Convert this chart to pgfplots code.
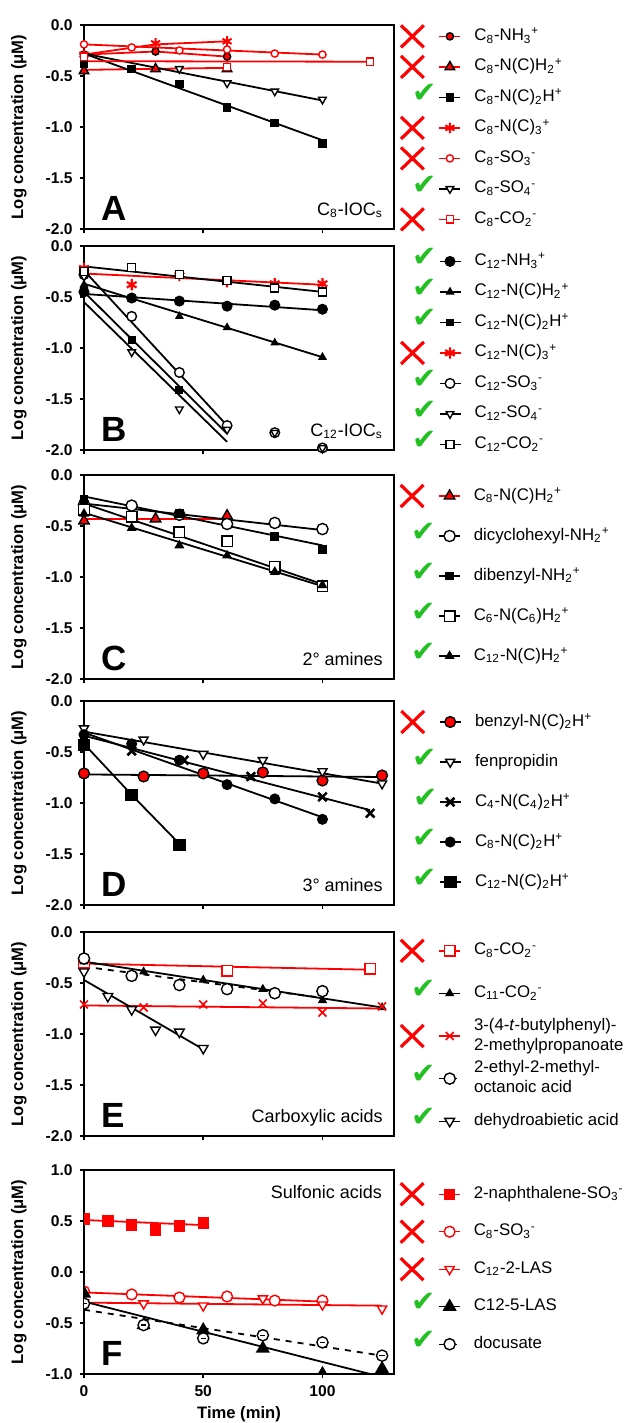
\documentclass[border=0pt]{standalone}
\usepackage{fontspec}
\setmainfont{Liberation Sans}
\newfontfamily\djv{DejaVu Sans}
\usepackage{pgfplots}
\pgfplotsset{compat=1.18}
\definecolor{ckgreen}{HTML}{22C022}
\definecolor{rd}{HTML}{FF0000}
\newcommand{\sub}[1]{\textsubscript{#1}}
\newcommand{\sps}[1]{\textsuperscript{#1}}

\tikzset{
  letter/.style={anchor=south west, inner sep=0pt, font=\fontsize{17.5}{18}\selectfont\bfseries},
  note/.style={anchor=base east, inner sep=0pt, font=\fontsize{9}{10}\selectfont},
}
\pgfplotsset{
  panel/.style={
    width=155pt, height=102pt, scale only axis, anchor=north west,
    xmin=0, xmax=130, ymin=-2, ymax=0,
    xtick={0,50,100}, xticklabels={},
    ytick={-2,-1.5,...,0},
    tick pos=left, tick align=outside, major tick length=2.2pt,
    axis line style={line width=1pt},
    tick style={black,line width=0.8pt},
    tick label style={font=\fontsize{7.8}{8}\selectfont\bfseries},
    /pgf/number format/assume math mode=true,
    yticklabel style={/pgf/number format/.cd,fixed,fixed zerofill,precision=1},
    ylabel={Log concentration (μM)},
    ylabel style={font=\fontsize{8.3}{9}\selectfont\bfseries,
      at={(axis description cs:-0.21,0.5)}, anchor=center},
    legend cell align=left,
    legend style={at={(axis description cs:1,1)}, anchor=north west, xshift=3pt,
      draw=none, fill=none, inner sep=0pt, column sep=4.5pt,
      nodes={font=\fontsize{8.4}{10}\selectfont, text height=6.5pt,
        text depth=2.5pt, inner xsep=2pt, inner ysep=0pt}},
  },
  fitl/.style={no marks, line width=0.9pt, forget plot},
  pts/.style={only marks, line width=0.7pt},
  lgok/.style={legend image code/.code={%
    \pgfinterruptboundingbox
      \node[inner sep=0pt,text=ckgreen,font=\djv\fontsize{14.5}{15}\selectfont] at (-14pt,-0.6pt) {✔};
    \endpgfinterruptboundingbox
    \path (-19pt,0pt) (10.5pt,0pt);
    \draw[##1] (0pt,0pt) -- (10.5pt,0pt);
    \draw[##1] plot coordinates {(5.25pt,0pt)};}},
  lgno/.style={legend image code/.code={%
    \pgfinterruptboundingbox
      \draw[rd,line width=1.6pt] (-19.2pt,-5.5pt) -- (-7.8pt,5.5pt) (-19.2pt,5.5pt) -- (-7.8pt,-5.5pt);
    \endpgfinterruptboundingbox
    \path (-19pt,0pt) (10.5pt,0pt);
    \draw[##1] (0pt,0pt) -- (10.5pt,0pt);
    \draw[##1] plot coordinates {(5.25pt,0pt)};}},
}

\begin{document}
\begin{tikzpicture}
% ---------------- A ----------------
\begin{axis}[panel, at={(0pt,0pt)}, legend style={yshift=-1pt, row sep=6.25pt}]
\addplot[fitl, rd] coordinates {(0,-0.29)(30,-0.26)(60,-0.31)};
\addplot[fitl, rd] coordinates {(0,-0.44)(60,-0.42)};
\addplot[fitl] coordinates {(0,-0.28)(100,-1.13)};
\addplot[fitl, rd] coordinates {(0,-0.29)(30,-0.19)(60,-0.16)};
\addplot[fitl, rd] coordinates {(0,-0.19)(100,-0.29)};
\addplot[fitl] coordinates {(0,-0.28)(100,-0.74)};
\addplot[fitl, rd] coordinates {(0,-0.355)(120,-0.36)};
\addplot[lgno, pts, rd, mark=*, mark size=1.8pt, mark options={fill=rd, draw=black}]
  coordinates {(0,-0.29)(30,-0.26)(60,-0.31)};
\addlegendentry{C\sub{8}-NH\sub{3}\sps{+}}
\addplot[lgno, pts, rd, mark=triangle*, mark size=2.7pt, mark options={fill=rd, draw=black}]
  coordinates {(0,-0.45)(30,-0.43)(60,-0.43)};
\addlegendentry{C\sub{8}-N(C)H\sub{2}\sps{+}}
\addplot[lgok, pts, black, mark=square*, mark size=1.8pt]
  coordinates {(0,-0.38)(20,-0.43)(40,-0.58)(60,-0.81)(80,-0.96)(100,-1.16)};
\addlegendentry{C\sub{8}-N(C)\sub{2}H\sps{+}}
\addplot[lgno, pts, rd, mark=asterisk, mark size=2.6pt, line width=1pt]
  coordinates {(0,-0.29)(30,-0.18)(60,-0.16)};
\addlegendentry{C\sub{8}-N(C)\sub{3}\sps{+}}
\addplot[lgno, pts, rd, mark=*, mark size=1.8pt, mark options={fill=white}]
  coordinates {(0,-0.19)(20,-0.22)(40,-0.25)(60,-0.24)(80,-0.28)(100,-0.29)};
\addlegendentry{C\sub{8}-SO\sub{3}\sps{-}}
\addplot[lgok, pts, black, mark=triangle*, mark size=2.2pt, mark options={fill=white, rotate=180}]
  coordinates {(0,-0.31)(40,-0.43)(60,-0.57)(80,-0.65)(100,-0.73)};
\addlegendentry{C\sub{8}-SO\sub{4}\sps{-}}
\addplot[lgno, pts, rd, mark=square*, mark size=1.8pt, mark options={fill=white}]
  coordinates {(0,-0.31)(60,-0.41)(120,-0.36)};
\addlegendentry{C\sub{8}-CO\sub{2}\sps{-}}
\node[letter] at (axis description cs:0.055,0.04) {A};
\node[note] at (axis description cs:0.965,0.065) {C\sub{8}-IOC\sub{s}};
\end{axis}
% ---------------- B ----------------
\begin{axis}[panel, at={(0pt,-110.5pt)}, legend style={yshift=-3pt, row sep=6.25pt}]
\addplot[fitl] coordinates {(0,-0.47)(100,-0.63)};
\addplot[fitl] coordinates {(0,-0.37)(100,-1.09)};
\addplot[fitl] coordinates {(0,-0.45)(60,-1.84)};
\addplot[fitl, rd] coordinates {(0,-0.27)(100,-0.38)};
\addplot[fitl] coordinates {(0,-0.24)(60,-1.76)};
\addplot[fitl] coordinates {(0,-0.55)(60,-1.92)};
\addplot[fitl] coordinates {(0,-0.20)(100,-0.45)};
\addplot[lgok, pts, black, mark=*, mark size=2.4pt]
  coordinates {(0,-0.45)(20,-0.51)(40,-0.54)(60,-0.59)(80,-0.58)(100,-0.62)};
\addlegendentry{C\sub{12}-NH\sub{3}\sps{+}}
\addplot[lgok, pts, black, mark=triangle*, mark size=1.9pt]
  coordinates {(0,-0.38)(20,-0.52)(40,-0.69)(60,-0.80)(80,-0.95)(100,-1.09)};
\addlegendentry{C\sub{12}-N(C)H\sub{2}\sps{+}}
\addplot[lgok, pts, black, mark=square*, mark size=1.6pt]
  coordinates {(0,-0.43)(20,-0.92)(40,-1.41)};
\addlegendentry{C\sub{12}-N(C)\sub{2}H\sps{+}}
\addplot[lgno, pts, rd, mark=asterisk, mark size=2.8pt, line width=1.1pt]
  coordinates {(0,-0.22)(20,-0.38)(40,-0.29)(60,-0.35)(80,-0.37)(100,-0.37)};
\addlegendentry{C\sub{12}-N(C)\sub{3}\sps{+}}
\addplot[lgok, pts, black, mark=*, mark size=2.4pt, mark options={fill=white}]
  coordinates {(0,-0.28)(20,-0.69)(40,-1.24)(60,-1.76)(80,-1.83)(100,-1.98)};
\addlegendentry{C\sub{12}-SO\sub{3}\sps{-}}
\addplot[lgok, pts, black, mark=triangle*, mark size=2.2pt, mark options={fill=white, rotate=180}]
  coordinates {(0,-0.30)(20,-1.04)(40,-1.60)(60,-1.80)(80,-1.83)(100,-1.98)};
\addlegendentry{C\sub{12}-SO\sub{4}\sps{-}}
\addplot[lgok, pts, black, mark=square*, mark size=2pt, mark options={fill=white}]
  coordinates {(0,-0.25)(20,-0.21)(40,-0.28)(60,-0.34)(80,-0.41)(100,-0.45)};
\addlegendentry{C\sub{12}-CO\sub{2}\sps{-}}
\node[letter] at (axis description cs:0.055,0.04) {B};
\node[note] at (axis description cs:0.965,0.065) {C\sub{12}-IOC\sub{s}};
\end{axis}
% ---------------- C ----------------
\begin{axis}[panel, at={(0pt,-225pt)}, legend style={yshift=-5.8pt, row sep=11pt}]
\addplot[fitl, rd] coordinates {(0,-0.43)(60,-0.43)};
\addplot[fitl] coordinates {(0,-0.28)(100,-0.54)};
\addplot[fitl] coordinates {(0,-0.21)(100,-0.69)};
\addplot[fitl] coordinates {(0,-0.28)(100,-1.07)};
\addplot[fitl] coordinates {(0,-0.37)(100,-1.09)};
\addplot[lgno, pts, rd, mark=triangle*, mark size=3pt, mark options={fill=rd, draw=black}]
  coordinates {(0,-0.45)(30,-0.43)(60,-0.40)};
\addlegendentry{C\sub{8}-N(C)H\sub{2}\sps{+}}
\addplot[lgok, pts, black, mark=*, mark size=2.8pt, mark options={fill=white}]
  coordinates {(0,-0.29)(20,-0.30)(40,-0.39)(60,-0.48)(80,-0.47)(100,-0.53)};
\addlegendentry{dicyclohexyl-NH\sub{2}\sps{+}}
\addplot[lgok, pts, black, mark=square*, mark size=1.8pt]
  coordinates {(0,-0.24)(40,-0.38)(80,-0.60)(100,-0.73)};
\addlegendentry{dibenzyl-NH\sub{2}\sps{+}}
\addplot[lgok, pts, black, mark=square*, mark size=2.6pt, mark options={fill=white}]
  coordinates {(0,-0.34)(20,-0.41)(40,-0.56)(60,-0.65)(80,-0.90)(100,-1.09)};
\addlegendentry{C\sub{6}-N(C\sub{6})H\sub{2}\sps{+}}
\addplot[lgok, pts, black, mark=triangle*, mark size=2.2pt]
  coordinates {(0,-0.38)(20,-0.52)(40,-0.69)(60,-0.79)(80,-0.95)(100,-1.08)};
\addlegendentry{C\sub{12}-N(C)H\sub{2}\sps{+}}
\node[letter] at (axis description cs:0.055,0.04) {C};
\node[note] at (axis description cs:0.965,0.065) {2° amines};
\end{axis}
% ---------------- D ----------------
\begin{axis}[panel, at={(0pt,-338pt)}, legend style={yshift=-5.8pt, row sep=11pt}]
\addplot[fitl] coordinates {(0,-0.72)(125,-0.745)};
\addplot[fitl] coordinates {(0,-0.30)(125,-0.81)};
\addplot[fitl] coordinates {(0,-0.34)(120,-1.07)};
\addplot[fitl] coordinates {(0,-0.31)(100,-1.14)};
\addplot[fitl] coordinates {(0,-0.42)(20,-0.92)(40,-1.40)};
\addplot[lgno, pts, black, mark=*, mark size=2.7pt, mark options={fill=rd}]
  coordinates {(0,-0.71)(25,-0.74)(50,-0.71)(75,-0.70)(100,-0.78)(125,-0.73)};
\addlegendentry{benzyl-N(C)\sub{2}H\sps{+}}
\addplot[lgok, pts, black, mark=triangle*, mark size=2.6pt, mark options={fill=white, rotate=180}]
  coordinates {(0,-0.27)(25,-0.38)(50,-0.52)(75,-0.58)(100,-0.69)(125,-0.81)};
\addlegendentry{fenpropidin}
\addplot[lgok, pts, black, mark=x, mark size=3pt, line width=1.3pt]
  coordinates {(0,-0.35)(20,-0.49)(42,-0.58)(70,-0.74)(100,-0.94)(120,-1.10)};
\addlegendentry{C\sub{4}-N(C\sub{4})\sub{2}H\sps{+}}
\addplot[lgok, pts, black, mark=*, mark size=2.4pt]
  coordinates {(0,-0.33)(20,-0.42)(40,-0.58)(60,-0.82)(80,-0.96)(100,-1.16)};
\addlegendentry{C\sub{8}-N(C)\sub{2}H\sps{+}}
\addplot[lgok, pts, black, mark=square*, mark size=2.8pt]
  coordinates {(0,-0.43)(20,-0.92)(40,-1.41)};
\addlegendentry{C\sub{12}-N(C)\sub{2}H\sps{+}}
\node[letter] at (axis description cs:0.055,0.04) {D};
\node[note] at (axis description cs:0.965,0.065) {3° amines};
\end{axis}
% ---------------- E ----------------
\begin{axis}[panel, at={(0pt,-453.5pt)}, legend style={yshift=-4.7pt, row sep=12.3pt}]
\addplot[fitl, rd] coordinates {(0,-0.31)(120,-0.37)};
\addplot[fitl] coordinates {(0,-0.29)(125,-0.74)};
\addplot[fitl, rd] coordinates {(0,-0.72)(125,-0.75)};
\addplot[fitl, dashed] coordinates {(0,-0.34)(100,-0.645)};
\addplot[fitl] coordinates {(0,-0.47)(50,-1.15)};
\addplot[lgno, pts, rd, mark=square*, mark size=2.6pt, mark options={fill=white}]
  coordinates {(0,-0.30)(60,-0.38)(120,-0.36)};
\addlegendentry{C\sub{8}-CO\sub{2}\sps{-}}
\addplot[lgok, pts, black, mark=triangle*, mark size=2pt]
  coordinates {(0,-0.29)(25,-0.39)(50,-0.47)(75,-0.56)(100,-0.67)(125,-0.74)};
\addlegendentry{C\sub{11}-CO\sub{2}\sps{-}}
\addplot[lgno, pts, rd, mark=x, mark size=2.8pt, line width=0.8pt]
  coordinates {(0,-0.71)(25,-0.74)(50,-0.71)(75,-0.70)(100,-0.79)(125,-0.73)};
\addlegendentry{\begin{tabular}{@{}l@{}}3-(4-\textit{t}-butylphenyl)-\\2-methylpropanoate\end{tabular}}
\addplot[lgok, pts, black, dashed, mark=*, mark size=2.8pt, mark options={solid, fill=white}]
  coordinates {(0,-0.26)(20,-0.43)(40,-0.52)(60,-0.56)(80,-0.60)(100,-0.58)};
\addlegendentry{\begin{tabular}{@{}l@{}}2-ethyl-2-methyl-\\octanoic acid\end{tabular}}
\addplot[lgok, pts, black, mark=triangle*, mark size=2.8pt, mark options={fill=white, rotate=180}]
  coordinates {(0,-0.39)(10,-0.63)(20,-0.76)(30,-0.96)(40,-0.98)(50,-1.14)};
\addlegendentry{dehydroabietic acid}
\node[letter] at (axis description cs:0.055,0.04) {E};
\node[note] at (axis description cs:0.965,0.065) {Carboxylic acids};
\end{axis}
% ---------------- F ----------------
\begin{axis}[panel, at={(0pt,-572.5pt)}, ymin=-1, ymax=1, ytick={-1,-0.5,...,1},
  xticklabels={0,50,100}, clip marker paths=true,
  xlabel={Time (min)}, xlabel style={font=\fontsize{8.3}{9}\selectfont\bfseries, yshift=2pt},
  legend style={yshift=-7.4pt, row sep=9.75pt}]
\addplot[fitl, rd] coordinates {(0,0.51)(50,0.46)};
\addplot[fitl, rd] coordinates {(0,-0.20)(100,-0.29)};
\addplot[fitl, rd] coordinates {(0,-0.30)(125,-0.33)};
\addplot[fitl] coordinates {(0,-0.29)(120,-1.0)};
\addplot[fitl, dashed] coordinates {(0,-0.37)(125,-0.82)};
\addplot[lgno, pts, rd, mark=square*, mark size=2.5pt]
  coordinates {(0,0.52)(10,0.50)(20,0.46)(30,0.41)(40,0.45)(50,0.48)};
\addlegendentry{2-naphthalene-SO\sub{3}\sps{-}}
\addplot[lgno, pts, rd, mark=*, mark size=2.7pt, mark options={fill=white}]
  coordinates {(0,-0.19)(20,-0.22)(40,-0.25)(60,-0.24)(80,-0.28)(100,-0.28)};
\addlegendentry{C\sub{8}-SO\sub{3}\sps{-}}
\addplot[lgno, pts, rd, mark=triangle*, mark size=2.7pt, mark options={fill=white, rotate=180}]
  coordinates {(0,-0.30)(25,-0.31)(50,-0.33)(75,-0.26)(100,-0.32)(125,-0.36)};
\addlegendentry{C\sub{12}-2-LAS}
\addplot[lgok, pts, black, mark=triangle*, mark size=3.4pt]
  coordinates {(0,-0.21)(25,-0.52)(50,-0.57)(75,-0.75)(100,-1.0)(125,-0.95)};
\addlegendentry{C12-5-LAS}
\addplot[lgok, pts, black, dashed, mark=*, mark size=2.8pt, mark options={solid, fill=white}]
  coordinates {(0,-0.31)(25,-0.52)(50,-0.65)(75,-0.62)(100,-0.69)(125,-0.82)};
\addlegendentry{docusate}
\addplot[pts, black, forget plot, mark=-, mark size=1.3pt]
  coordinates {(0,-0.31)(25,-0.52)(50,-0.65)(75,-0.62)(100,-0.69)(125,-0.82)};
\node[letter] at (axis description cs:0.055,0.04) {F};
\node[anchor=north east, inner sep=0pt, font=\fontsize{9}{10}\selectfont]
  at (axis description cs:0.962,0.925) {Sulfonic acids};
\end{axis}
\pgfresetboundingbox
\path[use as bounding box] (-42pt,12.5pt) rectangle (270.5pt,-699pt);
\end{tikzpicture}
\end{document}
